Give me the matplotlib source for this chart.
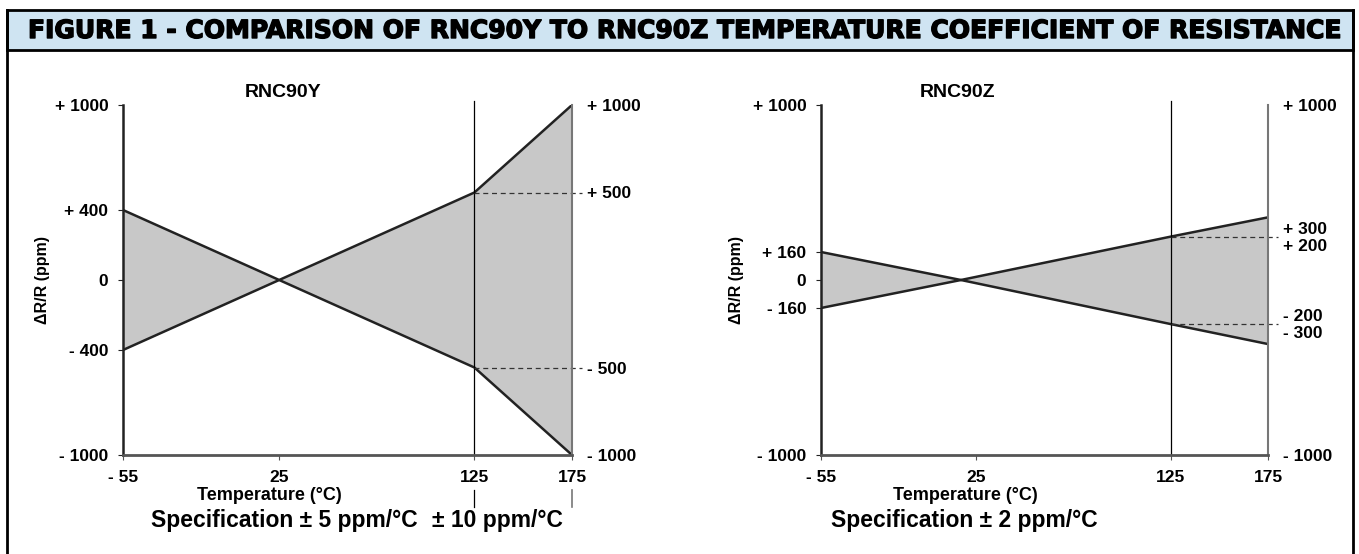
"""Figure 1 — RNC90Y vs RNC90Z temperature coefficient of resistance envelopes."""
import matplotlib
matplotlib.use("Agg")
import matplotlib.pyplot as plt
import matplotlib.patheffects as pe
from matplotlib.patches import Rectangle
from matplotlib.lines import Line2D

plt.rcParams["font.family"] = ["Liberation Sans", "DejaVu Sans"]
plt.rcParams["font.weight"] = "bold"

W, H = 1359, 554

# RNC90Y: ±5 ppm/°C up to 125 °C, ±10 ppm/°C above
TEMPS_Y = [-55, 25, 125, 175]
UPPER_Y = [400, 0, 500, 1000]
LOWER_Y = [-400, 0, -500, -1000]

# RNC90Z: ±2 ppm/°C (values as drawn in the original sketch)
TEMPS_Z = [-55, 17, 125, 175]
UPPER_Z = [160, 0, 248, 358]
LOWER_Z = [-160, 0, -252, -366]

X_TICKS = [-55, 25, 125, 175]
X_LABELS = ["- 55", "25", "125", "175"]

LEFT_TICKS_Y = [-1000, -400, 0, 400, 1000]
LEFT_LABELS_Y = ["- 1000", "- 400", "0", "+ 400", "+ 1000"]
RIGHT_TICKS_Y = [-1000, -500, 500, 1000]
RIGHT_LABELS_Y = ["- 1000", "- 500", "+ 500", "+ 1000"]
DASH_Y = [500, -500]

LEFT_TICKS_Z = [-1000, -160, 0, 160, 1000]
LEFT_LABELS_Z = ["- 1000", "- 160", "0", "+ 160", "+ 1000"]
RIGHT_TICKS_Z = [-1000, -300, -200, 200, 300, 1000]
RIGHT_LABELS_Z = ["- 1000", "- 300", "- 200", "+ 200", "+ 300", "+ 1000"]
DASH_Z = [248, -252]

TITLE = "FIGURE 1 - COMPARISON OF RNC90Y TO RNC90Z TEMPERATURE COEFFICIENT OF RESISTANCE"


def fx(x):
    return x / W


def fy(y):
    return 1 - y / H


def panel(fig, left_px, right_px, temps, upper, lower, lt, ll, rt, rl, dash, name,
          title_px, ylabel_px):
    width = right_px - left_px
    ax = fig.add_axes([fx(left_px), fy(455), width / W, 350 / H])
    ax.fill_between(temps, lower, upper, color="#c8c8c8", lw=0)
    ax.plot(temps, upper, color="#222222", lw=1.8)
    ax.plot(temps, lower, color="#222222", lw=1.8)
    ax.axvline(125, ymin=0, ymax=1.012, color="black", lw=0.9, clip_on=False)
    for v in dash:
        ax.plot([125, 180], [v, v], color="#333333", lw=0.9, ls=(0, (4, 3)), clip_on=False)
    ax.set_xlim(-55, 175)
    ax.set_ylim(-1000, 1000)
    ax.spines["top"].set_visible(False)
    ax.spines["left"].set_color("#222222")
    ax.spines["left"].set_linewidth(1.8)
    ax.spines["bottom"].set_color("#555555")
    ax.spines["bottom"].set_linewidth(2.0)
    ax.spines["right"].set_color("#777777")
    ax.spines["right"].set_linewidth(1.5)
    ax.set_xticks(X_TICKS, X_LABELS)
    ax.set_yticks(lt, ll)
    ax.tick_params(axis="x", length=3.6, width=0.8, color="#555555", pad=7, labelsize=12.5)
    ax.tick_params(axis="y", length=3.6, width=0.8, color="#222222", pad=7, labelsize=12.5)
    ax.set_ylabel("ΔR/R (ppm)", fontsize=11.5, fontweight="bold")
    ax.yaxis.set_label_coords((ylabel_px - left_px) / width, 0.5)
    ax.set_title(name, fontsize=14, fontweight="bold", pad=6,
                 x=(title_px - left_px) / width)

    ax2 = ax.twinx()
    ax2.set_ylim(-1000, 1000)
    ax2.set_yticks(rt, rl)
    ax2.tick_params(axis="y", length=0, pad=11, labelsize=12.5)
    for s in ax2.spines.values():
        s.set_visible(False)
    return ax


fig = plt.figure(figsize=(W / 100, H / 100), dpi=100)

# header band and outer frame
fig.add_artist(Rectangle((fx(7), fy(50)), (1353 - 7) / W, 40 / H, transform=fig.transFigure,
                         facecolor="#cfe4f2", edgecolor="black", lw=2))
for xp in (7, 1353):
    fig.add_artist(Line2D([fx(xp), fx(xp)], [0, fy(10)], transform=fig.transFigure,
                          color="black", lw=2))
fig.text(fx(28), fy(31), TITLE, ha="left", va="center", fontsize=18, fontweight="bold",
         family="DejaVu Sans",
         path_effects=[pe.withStroke(linewidth=1.0, foreground="black")])

panel(fig, 123, 572, TEMPS_Y, UPPER_Y, LOWER_Y, LEFT_TICKS_Y, LEFT_LABELS_Y,
      RIGHT_TICKS_Y, RIGHT_LABELS_Y, DASH_Y, "RNC90Y", 283, 50)
panel(fig, 821, 1268, TEMPS_Z, UPPER_Z, LOWER_Z, LEFT_TICKS_Z, LEFT_LABELS_Z,
      RIGHT_TICKS_Z, RIGHT_LABELS_Z, DASH_Z, "RNC90Z", 958, 744)

# short markers under 125 / 175 on the RNC90Y panel
fig.add_artist(Line2D([fx(474), fx(474)], [fy(490), fy(507)], transform=fig.transFigure,
                      color="black", lw=0.9))
fig.add_artist(Line2D([fx(572), fx(572)], [fy(490), fy(507)], transform=fig.transFigure,
                      color="#777777", lw=1.2))

fig.text(fx(269), fy(495), "Temperature (°C)", ha="center", va="center", fontsize=13)
fig.text(fx(965), fy(495), "Temperature (°C)", ha="center", va="center", fontsize=13)
fig.text(fx(418), fy(521), "Specification ± 5 ppm/°C", ha="right", va="center", fontsize=16.5)
fig.text(fx(432), fy(521), "± 10 ppm/°C", ha="left", va="center", fontsize=16.5)
fig.text(fx(964), fy(521), "Specification ± 2 ppm/°C", ha="center", va="center", fontsize=16.5)

fig.savefig("out.png", dpi=100)
